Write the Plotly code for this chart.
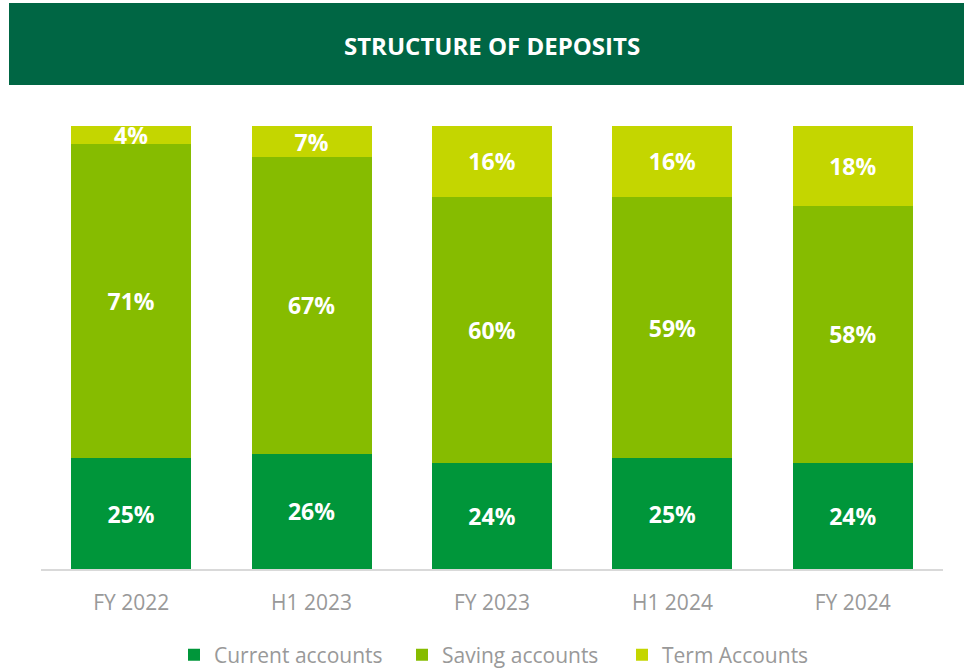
import plotly.graph_objects as go

categories = ["FY 2022", "H1 2023", "FY 2023", "H1 2024", "FY 2024"]
current_accounts = [25, 26, 24, 25, 24]
saving_accounts = [71, 67, 60, 59, 58]
term_accounts = [4, 7, 16, 16, 18]

series = [
    ("Current accounts", current_accounts, "#00963A", 183),
    ("Saving accounts", saving_accounts, "#86BC00", 175),
    ("Term Accounts", term_accounts, "#C4D600", 150),
]

FONT = "Open Sans, Noto Sans, DejaVu Sans, sans-serif"

fig = go.Figure()
for name, vals, color, lw in series:
    fig.add_trace(go.Bar(
        x=categories, y=vals, name=name,
        marker=dict(color=color, line=dict(width=0)),
        text=[f"{v}%" for v in vals],
        textposition="inside", insidetextanchor="middle",
        textfont=dict(family=FONT, size=23, color="white", weight="bold"),
        legendwidth=lw,
        hoverinfo="skip",
    ))

W, H = 964, 670
L, R, T, B = 41, 21, 126, 101
pw, ph = W - L - R, H - T - B

def px_x(x):
    return (x - L) / pw

def px_y(y):
    return (H - B - y) / ph

fig.add_shape(type="rect", xref="paper", yref="paper",
              x0=px_x(9), x1=px_x(970), y0=px_y(85), y1=px_y(3),
              fillcolor="#006644", line=dict(width=0), layer="below")
fig.add_annotation(xref="paper", yref="paper", x=px_x(492), y=px_y(45),
                   text="<b>STRUCTURE OF DEPOSITS</b>", showarrow=False,
                   font=dict(family=FONT, size=24, color="white"),
                   xanchor="center", yanchor="middle")

fig.update_layout(
    width=W, height=H,
    margin=dict(l=L, r=R, t=T, b=B, autoexpand=False),
    barmode="stack", bargap=0.335,
    paper_bgcolor="white", plot_bgcolor="white",
    uniformtext=dict(minsize=23, mode="show"),
    showlegend=True,
    legend=dict(orientation="h", x=px_x(174), xanchor="left",
                y=px_y(655), yanchor="middle",
                font=dict(family=FONT, size=21, color="#999999"),
                traceorder="normal"),
    xaxis=dict(showline=True, linecolor="#d9d9d9", linewidth=1.5,
               showgrid=False, ticks="", ticklabelstandoff=14,
               tickfont=dict(family=FONT, size=21, color="#999999"),
               fixedrange=True),
    yaxis=dict(range=[0, 100], visible=False, showgrid=False, fixedrange=True),
)

fig.write_html("out.html",
               config={"displayModeBar": False},
               post_script="document.body.style.margin='0';document.body.style.overflow='hidden';")
